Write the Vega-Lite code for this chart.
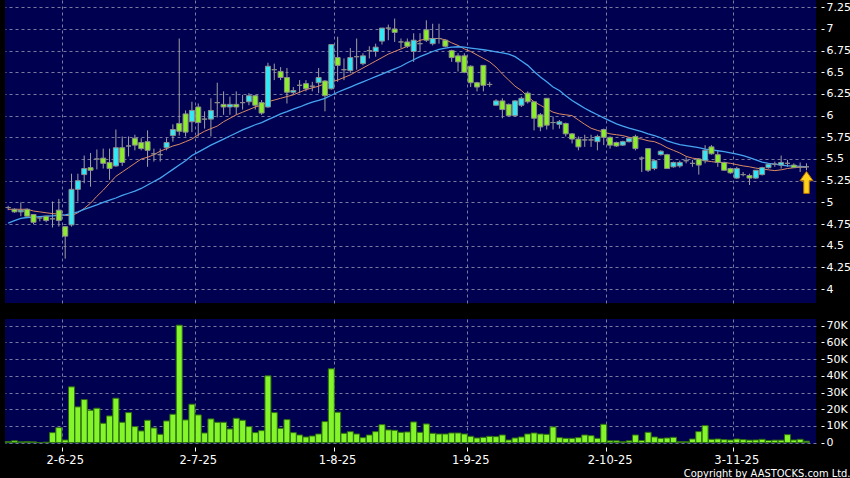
{
"$schema": "https://vega.github.io/schema/vega-lite/v6.json",
"background": "#000000",
"padding": {"left": 4, "top": 0, "right": 0, "bottom": 0},
"config": {
  "view": {"fill": "#000050", "stroke": null},
  "axis": {"labelColor": "#ffffff", "labelFont": "DejaVu Sans", "labelFontSize": 11, "tickColor": "#ffffff", "domain": false, "gridColor": "#7a7aa0", "gridDash": [3, 3], "gridWidth": 1, "title": null, "labelOverlap": false, "labelBound": false}
},
"datasets": {
"p": [
{"d":"2025-05-20","o":4.94,"h":4.96,"l":4.91,"c":4.94,"v":700,"a":4.92,"b":4.76},
{"d":"2025-05-21","o":4.92,"h":4.93,"l":4.88,"c":4.89,"v":1100,"a":4.92,"b":4.79},
{"d":"2025-05-22","o":4.89,"h":5.00,"l":4.84,"c":4.91,"v":500,"a":4.92,"b":4.815},
{"d":"2025-05-23","o":4.92,"h":4.93,"l":4.84,"c":4.84,"v":700,"a":4.92,"b":4.825},
{"d":"2025-05-26","o":4.86,"h":4.86,"l":4.75,"c":4.77,"v":500,"a":4.90,"b":4.83},
{"d":"2025-05-27","o":4.82,"h":4.84,"l":4.78,"c":4.82,"v":100,"a":4.89,"b":4.835},
{"d":"2025-05-28","o":4.84,"h":4.84,"l":4.77,"c":4.79,"v":300,"a":4.88,"b":4.84},
{"d":"2025-05-29","o":4.81,"h":5.01,"l":4.71,"c":4.81,"v":6000,"a":4.87,"b":4.845},
{"d":"2025-05-30","o":4.91,"h":5.04,"l":4.72,"c":4.79,"v":9000,"a":4.865,"b":4.85},
{"d":"2025-06-02","o":4.72,"h":4.72,"l":4.35,"c":4.61,"v":1600,"a":4.85,"b":4.855},
{"d":"2025-06-03","o":4.74,"h":5.33,"l":4.72,"c":5.15,"v":33400,"a":4.845,"b":4.87},
{"d":"2025-06-04","o":5.15,"h":5.33,"l":5.01,"c":5.25,"v":21400,"a":4.88,"b":4.89},
{"d":"2025-06-05","o":5.32,"h":5.54,"l":5.22,"c":5.39,"v":25800,"a":4.93,"b":4.92},
{"d":"2025-06-06","o":5.40,"h":5.57,"l":5.18,"c":5.37,"v":19400,"a":4.99,"b":4.945},
{"d":"2025-06-09","o":5.50,"h":5.61,"l":5.38,"c":5.50,"v":20600,"a":5.07,"b":4.97},
{"d":"2025-06-10","o":5.51,"h":5.62,"l":5.39,"c":5.45,"v":11600,"a":5.14,"b":5.00},
{"d":"2025-06-11","o":5.46,"h":5.62,"l":5.26,"c":5.39,"v":16000,"a":5.22,"b":5.025},
{"d":"2025-06-12","o":5.42,"h":5.84,"l":5.41,"c":5.63,"v":26600,"a":5.30,"b":5.05},
{"d":"2025-06-13","o":5.63,"h":5.76,"l":5.42,"c":5.46,"v":12200,"a":5.35,"b":5.08},
{"d":"2025-06-16","o":5.65,"h":5.76,"l":5.53,"c":5.65,"v":18000,"a":5.40,"b":5.105},
{"d":"2025-06-17","o":5.74,"h":5.78,"l":5.60,"c":5.66,"v":9600,"a":5.45,"b":5.13},
{"d":"2025-06-18","o":5.69,"h":5.74,"l":5.60,"c":5.62,"v":7000,"a":5.50,"b":5.16},
{"d":"2025-06-19","o":5.70,"h":5.83,"l":5.41,"c":5.60,"v":13400,"a":5.52,"b":5.20},
{"d":"2025-06-20","o":5.56,"h":5.62,"l":5.47,"c":5.56,"v":8800,"a":5.55,"b":5.24},
{"d":"2025-06-23","o":5.55,"h":5.62,"l":5.47,"c":5.55,"v":5000,"a":5.59,"b":5.28},
{"d":"2025-06-24","o":5.63,"h":5.74,"l":5.60,"c":5.69,"v":13000,"a":5.62,"b":5.33},
{"d":"2025-06-25","o":5.77,"h":5.90,"l":5.70,"c":5.84,"v":17000,"a":5.65,"b":5.38},
{"d":"2025-06-26","o":5.91,"h":6.89,"l":5.77,"c":5.82,"v":70300,"a":5.67,"b":5.43},
{"d":"2025-06-27","o":6.02,"h":6.06,"l":5.76,"c":5.81,"v":13600,"a":5.70,"b":5.48},
{"d":"2025-06-30","o":5.93,"h":6.16,"l":5.81,"c":6.06,"v":23000,"a":5.73,"b":5.54},
{"d":"2025-07-02","o":6.10,"h":6.14,"l":5.76,"c":5.92,"v":16600,"a":5.78,"b":5.58},
{"d":"2025-07-03","o":5.96,"h":6.05,"l":5.85,"c":5.96,"v":5800,"a":5.82,"b":5.62},
{"d":"2025-07-04","o":5.96,"h":6.20,"l":5.76,"c":6.06,"v":14200,"a":5.85,"b":5.66},
{"d":"2025-07-07","o":6.15,"h":6.38,"l":5.98,"c":6.15,"v":12200,"a":5.88,"b":5.695},
{"d":"2025-07-08","o":6.13,"h":6.28,"l":6.01,"c":6.10,"v":12200,"a":5.93,"b":5.73},
{"d":"2025-07-09","o":6.10,"h":6.22,"l":6.01,"c":6.13,"v":8200,"a":5.97,"b":5.765},
{"d":"2025-07-10","o":6.13,"h":6.28,"l":6.01,"c":6.10,"v":14600,"a":6.01,"b":5.80},
{"d":"2025-07-11","o":6.15,"h":6.24,"l":6.07,"c":6.15,"v":13400,"a":6.04,"b":5.835},
{"d":"2025-07-14","o":6.16,"h":6.26,"l":6.12,"c":6.23,"v":9600,"a":6.07,"b":5.865},
{"d":"2025-07-15","o":6.23,"h":6.24,"l":6.07,"c":6.12,"v":6000,"a":6.10,"b":5.895},
{"d":"2025-07-16","o":6.15,"h":6.18,"l":6.01,"c":6.03,"v":7200,"a":6.12,"b":5.92},
{"d":"2025-07-17","o":6.10,"h":6.61,"l":6.09,"c":6.57,"v":40000,"a":6.16,"b":5.955},
{"d":"2025-07-18","o":6.53,"h":6.60,"l":6.41,"c":6.53,"v":18000,"a":6.18,"b":5.985},
{"d":"2025-07-21","o":6.51,"h":6.56,"l":6.41,"c":6.44,"v":8600,"a":6.20,"b":6.02},
{"d":"2025-07-22","o":6.44,"h":6.55,"l":6.14,"c":6.27,"v":13800,"a":6.22,"b":6.046},
{"d":"2025-07-23","o":6.27,"h":6.33,"l":6.24,"c":6.29,"v":6000,"a":6.24,"b":6.075},
{"d":"2025-07-24","o":6.35,"h":6.41,"l":6.26,"c":6.35,"v":4600,"a":6.27,"b":6.10},
{"d":"2025-07-25","o":6.37,"h":6.41,"l":6.28,"c":6.31,"v":3400,"a":6.30,"b":6.13},
{"d":"2025-07-28","o":6.34,"h":6.39,"l":6.28,"c":6.34,"v":4000,"a":6.32,"b":6.155},
{"d":"2025-07-29","o":6.38,"h":6.55,"l":6.26,"c":6.44,"v":5200,"a":6.34,"b":6.175},
{"d":"2025-07-30","o":6.40,"h":6.41,"l":6.05,"c":6.23,"v":12600,"a":6.37,"b":6.20},
{"d":"2025-07-31","o":6.31,"h":6.82,"l":6.30,"c":6.82,"v":44200,"a":6.39,"b":6.235},
{"d":"2025-08-01","o":6.67,"h":6.91,"l":6.39,"c":6.58,"v":18200,"a":6.41,"b":6.27},
{"d":"2025-08-04","o":6.53,"h":6.66,"l":6.41,"c":6.53,"v":5600,"a":6.44,"b":6.30},
{"d":"2025-08-05","o":6.52,"h":6.78,"l":6.49,"c":6.67,"v":6600,"a":6.47,"b":6.33},
{"d":"2025-08-06","o":6.68,"h":6.89,"l":6.53,"c":6.68,"v":5200,"a":6.51,"b":6.36},
{"d":"2025-08-07","o":6.60,"h":6.72,"l":6.58,"c":6.69,"v":3000,"a":6.55,"b":6.39},
{"d":"2025-08-08","o":6.75,"h":6.80,"l":6.66,"c":6.75,"v":4600,"a":6.59,"b":6.42},
{"d":"2025-08-11","o":6.74,"h":6.83,"l":6.68,"c":6.79,"v":6600,"a":6.63,"b":6.45},
{"d":"2025-08-12","o":6.86,"h":7.01,"l":6.82,"c":7.01,"v":10800,"a":6.67,"b":6.48},
{"d":"2025-08-13","o":7.01,"h":7.05,"l":6.87,"c":7.01,"v":7600,"a":6.71,"b":6.51},
{"d":"2025-08-14","o":7.00,"h":7.12,"l":6.85,"c":6.96,"v":7400,"a":6.74,"b":6.54},
{"d":"2025-08-15","o":6.85,"h":6.89,"l":6.78,"c":6.85,"v":6200,"a":6.77,"b":6.57},
{"d":"2025-08-18","o":6.85,"h":6.89,"l":6.78,"c":6.80,"v":6400,"a":6.80,"b":6.61},
{"d":"2025-08-19","o":6.74,"h":6.95,"l":6.62,"c":6.87,"v":12400,"a":6.83,"b":6.645},
{"d":"2025-08-20","o":6.83,"h":6.95,"l":6.74,"c":6.83,"v":6200,"a":6.87,"b":6.68},
{"d":"2025-08-21","o":6.99,"h":7.10,"l":6.85,"c":6.87,"v":11200,"a":6.885,"b":6.71},
{"d":"2025-08-22","o":6.83,"h":7.06,"l":6.81,"c":6.89,"v":5600,"a":6.89,"b":6.74},
{"d":"2025-08-25","o":6.89,"h":7.06,"l":6.83,"c":6.89,"v":5200,"a":6.89,"b":6.765},
{"d":"2025-08-26","o":6.87,"h":6.88,"l":6.79,"c":6.80,"v":5200,"a":6.875,"b":6.78},
{"d":"2025-08-27","o":6.75,"h":6.76,"l":6.62,"c":6.67,"v":5800,"a":6.84,"b":6.79},
{"d":"2025-08-28","o":6.69,"h":6.72,"l":6.51,"c":6.62,"v":5800,"a":6.81,"b":6.795},
{"d":"2025-08-29","o":6.69,"h":6.72,"l":6.49,"c":6.50,"v":5200,"a":6.77,"b":6.79},
{"d":"2025-09-01","o":6.57,"h":6.58,"l":6.33,"c":6.38,"v":3800,"a":6.74,"b":6.78},
{"d":"2025-09-02","o":6.38,"h":6.39,"l":6.28,"c":6.33,"v":2800,"a":6.70,"b":6.77},
{"d":"2025-09-03","o":6.58,"h":6.58,"l":6.28,"c":6.35,"v":3200,"a":6.66,"b":6.76},
{"d":"2025-09-04","o":6.36,"h":6.39,"l":6.33,"c":6.36,"v":3800,"a":6.62,"b":6.75},
{"d":"2025-09-05","o":6.12,"h":6.19,"l":6.12,"c":6.17,"v":3600,"a":6.56,"b":6.735},
{"d":"2025-09-08","o":6.17,"h":6.20,"l":5.97,"c":6.07,"v":4600,"a":6.48,"b":6.725},
{"d":"2025-09-09","o":6.13,"h":6.14,"l":5.99,"c":6.00,"v":1600,"a":6.41,"b":6.71},
{"d":"2025-09-10","o":6.00,"h":6.18,"l":5.99,"c":6.17,"v":2800,"a":6.34,"b":6.68},
{"d":"2025-09-11","o":6.12,"h":6.22,"l":6.10,"c":6.20,"v":3400,"a":6.29,"b":6.63},
{"d":"2025-09-12","o":6.26,"h":6.28,"l":6.14,"c":6.16,"v":5200,"a":6.22,"b":6.58},
{"d":"2025-09-15","o":6.16,"h":6.16,"l":5.83,"c":5.97,"v":5800,"a":6.16,"b":6.51},
{"d":"2025-09-16","o":6.01,"h":6.03,"l":5.82,"c":5.87,"v":5200,"a":6.12,"b":6.445},
{"d":"2025-09-17","o":6.20,"h":6.20,"l":5.84,"c":5.89,"v":5000,"a":6.08,"b":6.39},
{"d":"2025-09-18","o":5.92,"h":5.99,"l":5.84,"c":5.92,"v":9400,"a":6.04,"b":6.33},
{"d":"2025-09-19","o":5.90,"h":5.95,"l":5.85,"c":5.93,"v":3000,"a":6.02,"b":6.29},
{"d":"2025-09-22","o":5.91,"h":5.92,"l":5.76,"c":5.79,"v":2600,"a":6.01,"b":6.23},
{"d":"2025-09-23","o":5.79,"h":5.80,"l":5.68,"c":5.73,"v":2600,"a":6.00,"b":6.175},
{"d":"2025-09-24","o":5.73,"h":5.76,"l":5.60,"c":5.64,"v":3000,"a":5.95,"b":6.13},
{"d":"2025-09-25","o":5.72,"h":5.78,"l":5.64,"c":5.72,"v":4600,"a":5.90,"b":6.085},
{"d":"2025-09-26","o":5.72,"h":5.78,"l":5.64,"c":5.72,"v":4200,"a":5.855,"b":6.046},
{"d":"2025-09-29","o":5.70,"h":5.78,"l":5.60,"c":5.76,"v":2600,"a":5.83,"b":6.01},
{"d":"2025-09-30","o":5.84,"h":5.85,"l":5.66,"c":5.75,"v":11000,"a":5.81,"b":5.975},
{"d":"2025-10-02","o":5.75,"h":5.76,"l":5.62,"c":5.66,"v":1100,"a":5.79,"b":5.94},
{"d":"2025-10-03","o":5.69,"h":5.70,"l":5.64,"c":5.65,"v":1100,"a":5.78,"b":5.905},
{"d":"2025-10-06","o":5.66,"h":5.71,"l":5.65,"c":5.70,"v":600,"a":5.77,"b":5.88},
{"d":"2025-10-08","o":5.70,"h":5.75,"l":5.69,"c":5.74,"v":1100,"a":5.75,"b":5.855},
{"d":"2025-10-09","o":5.76,"h":5.78,"l":5.60,"c":5.62,"v":4600,"a":5.74,"b":5.835},
{"d":"2025-10-10","o":5.51,"h":5.53,"l":5.35,"c":5.51,"v":1300,"a":5.73,"b":5.815},
{"d":"2025-10-13","o":5.62,"h":5.62,"l":5.35,"c":5.37,"v":6200,"a":5.71,"b":5.79},
{"d":"2025-10-14","o":5.39,"h":5.49,"l":5.37,"c":5.48,"v":3400,"a":5.70,"b":5.77},
{"d":"2025-10-15","o":5.55,"h":5.60,"l":5.54,"c":5.59,"v":2600,"a":5.67,"b":5.745},
{"d":"2025-10-16","o":5.55,"h":5.56,"l":5.39,"c":5.39,"v":2800,"a":5.63,"b":5.71},
{"d":"2025-10-17","o":5.41,"h":5.47,"l":5.40,"c":5.46,"v":3200,"a":5.60,"b":5.685},
{"d":"2025-10-20","o":5.42,"h":5.48,"l":5.40,"c":5.46,"v":600,"a":5.57,"b":5.665},
{"d":"2025-10-21","o":5.48,"h":5.52,"l":5.45,"c":5.48,"v":600,"a":5.53,"b":5.655},
{"d":"2025-10-22","o":5.45,"h":5.49,"l":5.41,"c":5.45,"v":2200,"a":5.51,"b":5.643},
{"d":"2025-10-23","o":5.50,"h":5.51,"l":5.32,"c":5.43,"v":6600,"a":5.50,"b":5.63},
{"d":"2025-10-24","o":5.48,"h":5.66,"l":5.45,"c":5.60,"v":10200,"a":5.48,"b":5.615},
{"d":"2025-10-27","o":5.64,"h":5.66,"l":5.55,"c":5.56,"v":2000,"a":5.47,"b":5.605},
{"d":"2025-10-28","o":5.55,"h":5.59,"l":5.41,"c":5.46,"v":2200,"a":5.46,"b":5.595},
{"d":"2025-10-30","o":5.46,"h":5.47,"l":5.37,"c":5.37,"v":1800,"a":5.46,"b":5.585},
{"d":"2025-10-31","o":5.39,"h":5.40,"l":5.33,"c":5.34,"v":1600,"a":5.45,"b":5.57},
{"d":"2025-11-03","o":5.28,"h":5.41,"l":5.27,"c":5.39,"v":2200,"a":5.435,"b":5.555},
{"d":"2025-11-04","o":5.32,"h":5.35,"l":5.30,"c":5.32,"v":1800,"a":5.42,"b":5.54},
{"d":"2025-11-05","o":5.31,"h":5.33,"l":5.20,"c":5.28,"v":1500,"a":5.41,"b":5.515},
{"d":"2025-11-06","o":5.28,"h":5.37,"l":5.27,"c":5.37,"v":1600,"a":5.395,"b":5.49},
{"d":"2025-11-07","o":5.32,"h":5.41,"l":5.31,"c":5.40,"v":2000,"a":5.385,"b":5.465},
{"d":"2025-11-10","o":5.40,"h":5.44,"l":5.39,"c":5.44,"v":1300,"a":5.375,"b":5.45},
{"d":"2025-11-11","o":5.44,"h":5.47,"l":5.41,"c":5.44,"v":1500,"a":5.366,"b":5.44},
{"d":"2025-11-12","o":5.43,"h":5.54,"l":5.39,"c":5.46,"v":1500,"a":5.375,"b":5.43},
{"d":"2025-11-13","o":5.45,"h":5.49,"l":5.41,"c":5.45,"v":4800,"a":5.39,"b":5.42},
{"d":"2025-11-14","o":5.43,"h":5.45,"l":5.40,"c":5.40,"v":1600,"a":5.40,"b":5.42},
{"d":"2025-11-17","o":5.41,"h":5.46,"l":5.35,"c":5.41,"v":2000,"a":5.405,"b":5.415},
{"d":"2025-11-18","o":5.41,"h":5.45,"l":5.37,"c":5.41,"v":900,"a":5.405,"b":5.41}
],
"arrow": [{"d": "2025-11-18", "p": 5.23}]
},
"title": {"text": "Copyright by AASTOCKS.com Ltd.", "orient": "bottom", "anchor": "end", "frame": "bounds", "color": "#ffffff", "fontSize": 11, "fontWeight": "normal", "font": "DejaVu Sans Condensed", "offset": 2},
"spacing": 16,
"vconcat": [
{
  "width": 811,
  "height": 303,
  "data": {"name": "p"},
  "encoding": {
    "x": {"field": "d", "type": "ordinal", "sort": null,
      "scale": {"type": "band", "paddingInner": 0, "paddingOuter": 0.5, "align": 0},
      "axis": {"values": ["2025-06-02","2025-07-02","2025-08-01","2025-09-01","2025-10-02","2025-11-03"], "bandPosition": 0, "labels": false, "ticks": false, "grid": true}}
  },
  "layer": [
    {"mark": {"type": "rule", "color": "#a0a0a0", "strokeWidth": 1},
     "encoding": {
       "y": {"field": "l", "type": "quantitative",
         "scale": {"domain": [3.839, 7.334], "nice": false, "zero": false},
         "axis": {"orient": "right", "values": [4,4.25,4.5,4.75,5,5.25,5.5,5.75,6,6.25,6.5,6.75,7,7.25], "labelExpr": "'' + datum.value", "offset": 5, "tickSize": 3, "labelPadding": 2, "grid": true, "labelOverlap": false}},
       "y2": {"field": "h"}}},
    {"mark": {"type": "line", "color": "#dc8a62", "strokeWidth": 1},
     "encoding": {"y": {"field": "a", "type": "quantitative",
         "axis": {"orient": "right", "values": [4,4.25,4.5,4.75,5,5.25,5.5,5.75,6,6.25,6.5,6.75,7,7.25], "labelExpr": "'' + datum.value", "offset": 5, "tickSize": 3, "labelPadding": 2, "grid": true, "labelOverlap": false}}}},
    {"mark": {"type": "line", "color": "#45a5f0", "strokeWidth": 1.3},
     "encoding": {"y": {"field": "b", "type": "quantitative",
         "axis": {"orient": "right", "values": [4,4.25,4.5,4.75,5,5.25,5.5,5.75,6,6.25,6.5,6.75,7,7.25], "labelExpr": "'' + datum.value", "offset": 5, "tickSize": 3, "labelPadding": 2, "grid": true, "labelOverlap": false}}}},
    {"mark": {"type": "bar", "width": 5, "stroke": "#8c8c8c", "strokeWidth": 1},
     "encoding": {
       "y": {"field": "o", "type": "quantitative",
         "axis": {"orient": "right", "values": [4,4.25,4.5,4.75,5,5.25,5.5,5.75,6,6.25,6.5,6.75,7,7.25], "labelExpr": "'' + datum.value", "offset": 5, "tickSize": 3, "labelPadding": 2, "grid": true, "labelOverlap": false}},
       "y2": {"field": "c"},
       "fill": {"condition": [{"test": "datum.c > datum.o", "value": "#33e8f5"}, {"test": "datum.c < datum.o", "value": "#8cee2a"}], "value": "#a0a0a0"}}},
    {"data": {"name": "arrow"},
     "mark": {"type": "point", "shape": "M0,-1L0.6,-0.15L0.25,-0.15L0.25,1L-0.25,1L-0.25,-0.15L-0.6,-0.15Z", "filled": true, "size": 484, "fill": "#ffd21e", "stroke": "#b06a00", "strokeWidth": 1, "opacity": 1},
     "encoding": {"y": {"field": "p", "type": "quantitative",
         "axis": {"orient": "right", "values": [4,4.25,4.5,4.75,5,5.25,5.5,5.75,6,6.25,6.5,6.75,7,7.25], "labelExpr": "'' + datum.value", "offset": 5, "tickSize": 3, "labelPadding": 2, "grid": true, "labelOverlap": false}}}}
  ]
},
{
  "width": 811,
  "height": 125,
  "data": {"name": "p"},
  "mark": {"type": "bar", "width": 6, "fill": "#84f52a", "stroke": "#2e6e10", "strokeWidth": 1},
  "encoding": {
    "x": {"field": "d", "type": "ordinal", "sort": null,
      "scale": {"type": "band", "paddingInner": 0, "paddingOuter": 0.5, "align": 0},
      "axis": {"values": ["2025-06-02","2025-07-02","2025-08-01","2025-09-01","2025-10-02","2025-11-03"], "bandPosition": 0, "grid": true, "labelAngle": 0, "labelFontSize": 11.5, "offset": 3, "tickSize": 4, "labelPadding": 3,
        "labelExpr": "parseInt(substring(datum.value, 8, 10)) + '-' + parseInt(substring(datum.value, 5, 7)) + '-' + substring(datum.value, 2, 4)"}},
    "y": {"field": "v", "type": "quantitative",
      "scale": {"domain": [-800, 74000], "nice": false, "zero": false},
      "axis": {"orient": "right", "values": [0,10000,20000,30000,40000,50000,60000,70000], "offset": 5, "tickSize": 3, "labelPadding": 2, "grid": true,
        "labelExpr": "datum.value == 0 ? '0' : (datum.value / 1000) + 'K'"}},
    "y2": {"datum": 0}
  }
}
]
}
